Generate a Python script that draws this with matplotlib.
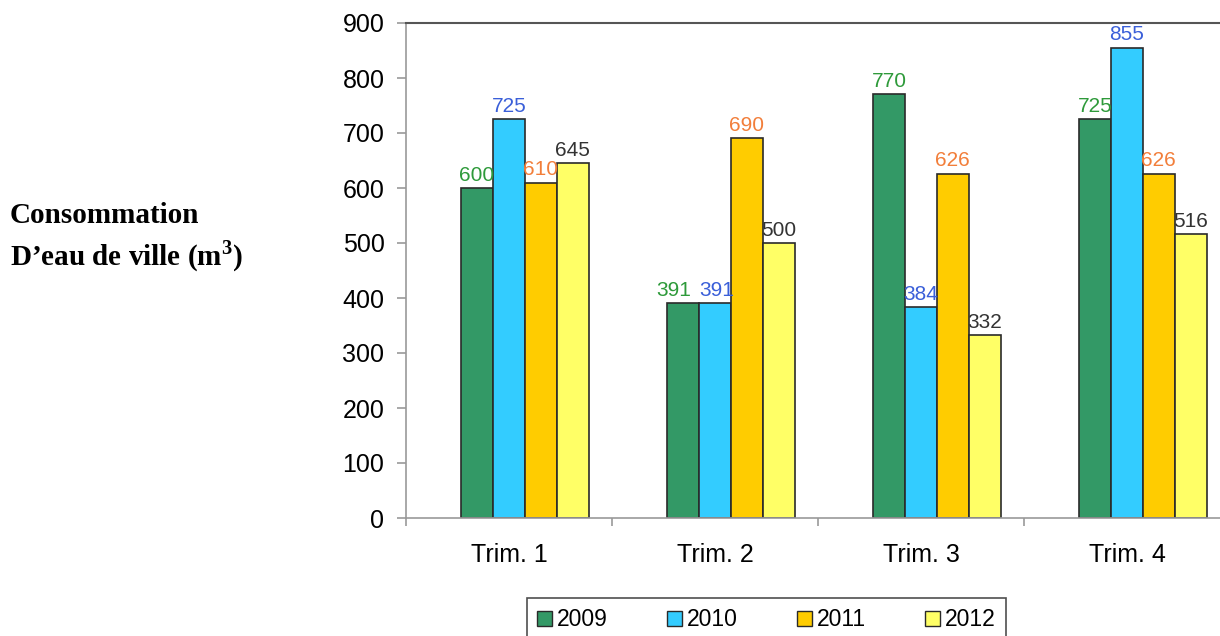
import matplotlib
matplotlib.use("Agg")
import matplotlib.pyplot as plt
import numpy as np

categories = ["Trim. 1", "Trim. 2", "Trim. 3", "Trim. 4"]
years = ["2009", "2010", "2011", "2012"]
v2009 = [600, 391, 770, 725]
v2010 = [725, 391, 384, 855]
v2011 = [610, 690, 626, 626]
v2012 = [645, 500, 332, 516]
series = [v2009, v2010, v2011, v2012]
bar_colors = ["#339966", "#33CCFF", "#FFCC00", "#FFFF66"]
label_colors = ["#2E9A3A", "#3A5FD9", "#F27E3A", "#333333"]

plt.rcParams['font.family'] = ['Liberation Sans', 'DejaVu Sans']
plt.rcParams['mathtext.fontset'] = 'custom'
plt.rcParams['mathtext.bf'] = 'Liberation Serif:bold'
plt.rcParams['mathtext.rm'] = 'Liberation Serif'

fig = plt.figure(figsize=(12.2, 6.36), dpi=100)
ax = fig.add_axes([406/1220, 1-518/636, (1230-406)/1220, (518-23)/636])

x = np.arange(len(categories))
w = 0.155
off = 0.077
for j, (vals, c, lc) in enumerate(zip(series, bar_colors, label_colors)):
    pos = x + off + (j - 1.5) * w
    ax.bar(pos, vals, width=w, color=c, edgecolor="#2a2a2a", linewidth=1.2,
           label=years[j], zorder=2)
    for i, (p, v) in enumerate(zip(pos, vals)):
        dx = 0.0
        if j == 0 and i == 1:
            dx = -0.045
        if j == 1 and i == 1:
            dx = 0.01
        ax.text(p + dx, v + 6, str(v), ha="center", va="bottom", fontsize=15,
                color=lc, zorder=3)

ax.set_xlim(-0.5, 3.5)
ax.set_ylim(0, 900)
ax.set_yticks(range(0, 901, 100))
ax.set_xticks(x)
ax.set_xticklabels(categories)
ax.set_xticks(np.arange(-0.5, 3.6, 1.0), minor=True)
ax.tick_params(axis="x", which="major", length=0, pad=18, labelsize=18)
ax.tick_params(axis="x", which="minor", length=6, color="#999999", width=1.2)
ax.tick_params(axis="y", length=6.5, color="#999999", width=1.2, pad=9, labelsize=18)

for s in ["left", "bottom"]:
    ax.spines[s].set_color("#999999")
    ax.spines[s].set_linewidth(1.2)
ax.spines["top"].set_color("#555555")
ax.spines["top"].set_linewidth(1.5)
ax.spines["right"].set_visible(False)

fig.text(10/1220, 1-238/636, "Consommation\nD\u2019eau de ville (m$^{\\mathbf{3}}$)",
         ha="left", va="center", fontsize=21, fontweight="bold",
         family=["Liberation Serif", "DejaVu Serif"], linespacing=1.35)

leg = fig.legend(loc="upper left", bbox_to_anchor=(527/1220, 1-598/636),
                 ncol=4, frameon=True, fancybox=False, edgecolor="#222222",
                 fontsize=16.5, handlelength=0.65, handleheight=0.65,
                 handletextpad=0.2, columnspacing=2.6, borderpad=0.45,
                 borderaxespad=0)
leg.get_frame().set_linewidth(1.2)
for h in leg.legend_handles:
    h.set_linewidth(1.0)

fig.savefig("out.png", dpi=100)
